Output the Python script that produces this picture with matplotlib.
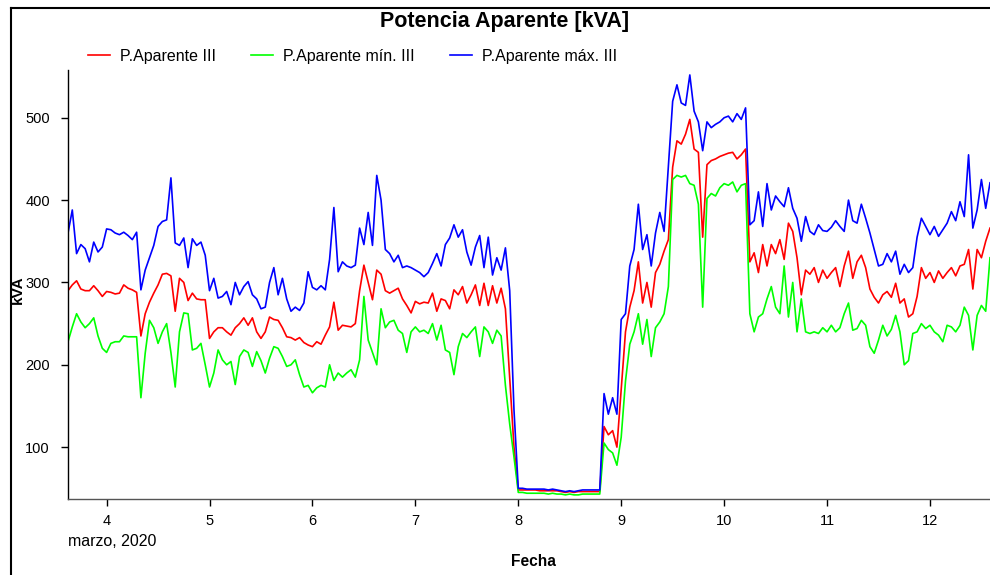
import matplotlib
matplotlib.use("Agg")
import matplotlib.pyplot as plt
import matplotlib.dates as mdates
from matplotlib.lines import Line2D
from matplotlib.ticker import FuncFormatter
import pandas as pd

# hourly readings, 2020-03-03 15:00 .. 2020-03-12 14:00
start = "2020-03-03 15:00"

p_aparente = [
    290, 297, 302, 292, 290, 290, 296, 290, 283,
    289, 288, 286, 287, 297, 293, 291, 288, 235, 262, 276, 287, 297, 310, 311, 308, 265, 305, 300, 278, 287, 280, 279, 279,
    232, 240, 245, 245, 240, 236, 245, 250, 257, 248, 257, 240, 232, 240, 258, 255, 254, 245, 234, 233, 230, 233, 227, 224,
    222, 228, 225, 236, 246, 276, 242, 248, 247, 246, 250, 290, 321, 300, 279, 315, 310, 290, 287, 290, 293, 280, 272, 263,
    277, 274, 276, 275, 287, 265, 280, 278, 268, 291, 285, 295, 275, 285, 297, 272, 299, 272, 296, 275, 293, 268, 185, 100,
    48, 48, 48, 48, 48, 47, 47, 47, 47, 47, 46, 45, 46, 45, 46, 46, 46, 46, 46, 46, 125, 115, 120, 100,
    170, 240, 270, 290, 325, 275, 300, 270, 312, 322, 338, 352, 440, 472, 468, 480, 498, 462, 458, 355, 443, 448, 450, 453,
    455, 457, 458, 450, 455, 462, 325, 336, 312, 346, 320, 346, 335, 352, 328, 372, 362, 330, 285, 315, 310, 318, 300, 315,
    305, 312, 318, 295, 320, 338, 305, 325, 333, 318, 292, 282, 275, 285, 289, 282, 299, 275, 280, 258, 262, 283, 318, 305,
    312, 300, 314, 305, 312, 318, 308, 320, 322, 340, 292, 340, 330, 350, 366,
]

p_aparente_min = [
    228, 246, 262, 252, 245, 250, 257, 235, 220,
    215, 226, 228, 228, 235, 234, 234, 234, 160, 214, 254, 245, 226, 240, 250, 215, 173, 240, 263, 262, 218, 220, 226, 200,
    173, 190, 218, 206, 200, 204, 176, 210, 218, 215, 198, 216, 205, 190, 208, 222, 220, 210, 198, 200, 206, 188, 173, 175,
    166, 172, 175, 173, 200, 181, 190, 185, 190, 194, 185, 206, 283, 230, 215, 200, 268, 245, 252, 254, 242, 238, 215, 240,
    246, 240, 242, 238, 250, 230, 248, 218, 215, 188, 222, 238, 233, 240, 246, 210, 246, 240, 226, 242, 235, 175, 128, 88,
    45, 45, 44, 44, 44, 44, 44, 43, 44, 43, 43, 42, 43, 42, 42, 43, 43, 43, 43, 43, 105, 97, 93, 78,
    112, 180, 225, 240, 262, 225, 255, 210, 245, 252, 262, 295, 425, 430, 428, 430, 420, 418, 395, 270, 402, 408, 405, 415,
    420, 418, 422, 410, 418, 420, 262, 240, 258, 262, 280, 295, 270, 262, 320, 258, 300, 240, 280, 240, 238, 240, 238, 245,
    240, 248, 240, 245, 262, 275, 242, 244, 254, 248, 222, 214, 230, 248, 235, 243, 260, 240, 200, 205, 238, 240, 250, 244,
    248, 240, 236, 228, 248, 246, 240, 248, 270, 260, 218, 260, 272, 265, 330,
]

p_aparente_max = [
    360, 388, 335, 346, 341, 325, 349, 337, 343,
    365, 364, 360, 358, 361, 357, 352, 361, 291, 315, 330, 345, 368, 374, 376, 427, 348, 345, 354, 318, 353, 345, 349, 333,
    290, 305, 281, 283, 289, 273, 300, 285, 295, 301, 285, 280, 268, 270, 300, 318, 285, 305, 280, 265, 270, 266, 275, 313,
    294, 291, 296, 291, 328, 391, 313, 325, 320, 318, 321, 366, 346, 385, 345, 430, 400, 340, 335, 325, 333, 318, 320, 318,
    315, 312, 307, 312, 323, 335, 320, 346, 354, 370, 355, 364, 337, 321, 343, 357, 318, 355, 309, 330, 315, 342, 290, 145,
    50, 50, 49, 49, 49, 49, 49, 48, 49, 48, 47, 46, 47, 46, 47, 48, 48, 48, 48, 48, 165, 140, 160, 140,
    255, 262, 320, 340, 395, 340, 358, 320, 360, 385, 362, 440, 520, 540, 518, 515, 552, 508, 495, 460, 495, 488, 492, 495,
    500, 502, 495, 505, 498, 512, 370, 375, 410, 368, 420, 388, 405, 398, 392, 415, 390, 378, 350, 380, 362, 358, 370, 363,
    362, 367, 375, 368, 362, 400, 375, 372, 395, 378, 360, 340, 320, 322, 335, 325, 338, 310, 322, 312, 318, 355, 378, 368,
    358, 368, 356, 364, 372, 386, 375, 398, 380, 455, 366, 388, 425, 390, 421,
]

series_names = ["P.Aparente III", "P.Aparente mín. III", "P.Aparente máx. III"]
y_ticks = [100, 200, 300, 400, 500]

fechas = pd.date_range(start, periods=len(p_aparente), freq="h")

plt.rcParams["font.family"] = ["Liberation Sans", "DejaVu Sans"]

fig = plt.figure(figsize=(9.9, 5.75), dpi=100)
ax = fig.add_axes([68 / 990, 1 - 499 / 575, 922 / 990, 429 / 575])

ax.plot(fechas, p_aparente, color="#ff0000", lw=1.2, label=series_names[0])
ax.plot(fechas, p_aparente_min, color="#00ff00", lw=1.2, label=series_names[1])
ax.plot(fechas, p_aparente_max, color="#0000ff", lw=1.2, label=series_names[2])

ax.set_xlim(fechas[0], fechas[-1])
ax.set_ylim(37, 558)
ax.set_yticks(y_ticks)

ax.xaxis.set_major_locator(mdates.DayLocator())
ax.xaxis.set_major_formatter(FuncFormatter(lambda v, pos: str(mdates.num2date(v).day)))

for side in ["top", "right"]:
    ax.spines[side].set_visible(False)
ax.spines["left"].set_linewidth(1.0)
ax.spines["bottom"].set_linewidth(1.0)
ax.spines["bottom"].set_color("#555555")
ax.tick_params(axis="both", direction="out", length=5, width=1, labelsize=10.5)
ax.tick_params(axis="y", pad=8)
ax.tick_params(axis="x", pad=6)

# titles and axis labels
fig.text(505 / 990, 1 - 22 / 575, "Potencia Aparente [kVA]", ha="center", va="center",
         fontsize=15.5, fontweight="bold")
fig.text(18 / 990, 1 - 290 / 575, "kVA", rotation=90, ha="center", va="center",
         fontsize=11, fontweight="bold")
fig.text(533 / 990, 1 - 561 / 575, "Fecha", ha="center", va="center",
         fontsize=11.2, fontweight="bold")
fig.text(68 / 990, 1 - 541 / 575, "marzo, 2020", ha="left", va="center", fontsize=11.5)

fig.legend(loc="center left", bbox_to_anchor=(88 / 990, 1 - 56 / 575), ncol=3,
           frameon=False, fontsize=11.5, handlelength=1.38, handletextpad=0.62,
           columnspacing=2.2, borderpad=0, borderaxespad=0)

# outer frame (left and top edges)
fx = 10.5 / 990
fy = 1 - 7.5 / 575
fig.add_artist(Line2D([fx, fx], [0, fy], transform=fig.transFigure, color="black", lw=1.5))
fig.add_artist(Line2D([fx, 1], [fy, fy], transform=fig.transFigure, color="black", lw=1.5))

fig.savefig("out.png", dpi=100)
